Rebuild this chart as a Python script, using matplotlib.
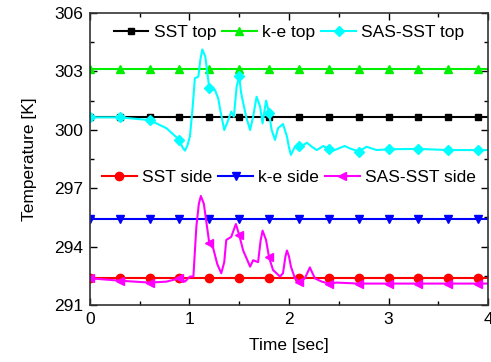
import numpy as np
import matplotlib
matplotlib.use("Agg")
import matplotlib.pyplot as plt
from matplotlib.ticker import MultipleLocator

plt.rcParams['font.family'] = ['Liberation Sans', 'DejaVu Sans']
plt.rcParams['font.size'] = 12.5

# marker times (every 0.3 s)
t_mark = [0.0, 0.3, 0.6, 0.9, 1.2, 1.5, 1.8, 2.1, 2.4, 2.7, 3.0, 3.3, 3.6, 3.9]

sst_top = 300.64
ke_top = 303.14
sst_side = 292.37
ke_side = 295.44

# SAS-SST top trace
t_sas_top = [0.0, 0.3, 0.6, 0.77, 0.9, 0.93, 0.955, 0.98, 1.005, 1.03, 1.055, 1.09,
             1.11, 1.13, 1.16, 1.2, 1.257, 1.29, 1.31, 1.35, 1.39, 1.42, 1.447,
             1.474, 1.5, 1.52, 1.57, 1.61, 1.64, 1.675, 1.71, 1.735, 1.77, 1.8,
             1.826, 1.86, 1.89, 1.94, 1.98, 2.0, 2.02, 2.06, 2.1, 2.12, 2.18, 2.23,
             2.28, 2.345, 2.4, 2.445, 2.56, 2.61, 2.7, 2.78, 2.88, 3.0, 3.3, 3.6,
             3.9, 4.0]
T_sas_top = [300.64, 300.64, 300.5, 300.08, 299.48, 299.1, 298.93, 299.2, 299.65,
             301.0, 302.65, 302.73, 303.6, 304.13, 303.76, 302.13, 302.05, 301.6,
             301.02, 299.99, 300.5, 300.93, 300.67, 302.2, 302.76, 301.88, 300.67,
             299.99, 300.67, 301.7, 301.19, 300.33, 301.5, 300.88, 299.99, 299.48,
             300.08, 300.3, 299.65, 299.1, 298.71, 299.13, 299.17, 299.13, 299.34,
             299.13, 298.96, 299.17, 299.0, 298.93, 299.17, 299.05, 298.88, 299.13,
             298.96, 299.0, 299.02, 298.96, 298.96, 298.96]

# SAS-SST side trace
t_sas_side = [0.0, 0.3, 0.6, 0.77, 0.9, 0.955, 1.005, 1.04, 1.07, 1.095, 1.115,
              1.145, 1.2, 1.24, 1.28, 1.32, 1.35, 1.37, 1.42, 1.467, 1.5, 1.54,
              1.61, 1.64, 1.69, 1.715, 1.735, 1.77, 1.8, 1.84, 1.91, 1.94, 1.965,
              1.98, 2.0, 2.02, 2.06, 2.1, 2.16, 2.21, 2.26, 2.33, 2.4, 2.48, 2.7,
              3.0, 3.3, 3.6, 3.9, 4.0]
T_sas_side = [292.37, 292.25, 292.15, 292.2, 292.37, 292.2, 292.46, 292.46, 295.03,
              296.2, 296.6, 296.2, 294.17, 293.9, 293.1, 292.63, 293.2, 294.34,
              294.5, 295.16, 294.6, 293.8, 292.97, 293.3, 293.2, 294.3, 294.82,
              294.34, 293.45, 292.8, 292.46, 292.63, 293.5, 293.8, 293.5, 292.97,
              292.37, 292.2, 292.37, 292.93, 292.37, 292.2, 292.1, 292.15, 292.1,
              292.1, 292.1, 292.1, 292.1, 292.1]

t_end = 4.0


def mark_idx(t):
    return [i for i, v in enumerate(t) if any(abs(v - m) < 1e-9 for m in t_mark)]


fig = plt.figure(figsize=(4.91, 3.62), dpi=100)
ax = fig.add_axes([0.183, 0.1575, 0.811, 0.8065])

t_flat = t_mark + [t_end]
n_flat = list(range(len(t_mark)))
ms = 6
lw = 1.5

l1, = ax.plot(t_flat, [sst_top] * len(t_flat), color='black', lw=lw, marker='s', ms=ms - 1,
              markevery=n_flat, label='SST top')
l2, = ax.plot(t_flat, [ke_top] * len(t_flat), color='#00ee00', lw=lw, marker='^', ms=ms,
              markevery=n_flat, label='k-e top')
l3, = ax.plot(t_sas_top, T_sas_top, color='#00ffff', lw=lw, marker='D', ms=ms - 1,
              markevery=mark_idx(t_sas_top), label='SAS-SST top')
l4, = ax.plot(t_flat, [sst_side] * len(t_flat), color='#ff0000', lw=lw, marker='o', ms=ms,
              markevery=n_flat, label='SST side')
l5, = ax.plot(t_flat, [ke_side] * len(t_flat), color='#0000ff', lw=lw, marker='v', ms=ms,
              markevery=n_flat, label='k-e side')
l6, = ax.plot(t_sas_side, T_sas_side, color='#ff00ff', lw=lw, marker='<', ms=ms,
              markevery=mark_idx(t_sas_side), label='SAS-SST side')

ax.set_xlim(0, 4)
ax.set_ylim(291, 306)
ax.xaxis.set_major_locator(MultipleLocator(1))
ax.xaxis.set_minor_locator(MultipleLocator(0.5))
ax.yaxis.set_major_locator(MultipleLocator(3))
ax.yaxis.set_minor_locator(MultipleLocator(1.5))
ax.tick_params(which='both', direction='in', top=True, right=True, width=1.0)
ax.tick_params(which='major', length=5, pad=5)
ax.tick_params(which='minor', length=3)
for s in ax.spines.values():
    s.set_linewidth(1.2)
    s.set_color('#333333')

ax.set_xlabel('Time [sec]', labelpad=8)
ax.set_ylabel('Temperature [K]', labelpad=12)

leg1 = ax.legend(handles=[l1, l2, l3], ncol=3, frameon=False, loc='upper center',
                 bbox_to_anchor=(0.5, 1.0), handlelength=2.0, handletextpad=0.3,
                 columnspacing=0.35, borderaxespad=0.3)
ax.add_artist(leg1)
ax.legend(handles=[l4, l5, l6], ncol=3, frameon=False, loc='center',
          bbox_to_anchor=(0.5, 0.438), handlelength=2.0, handletextpad=0.3,
          columnspacing=0.35)

fig.savefig('out.png', dpi=100)
